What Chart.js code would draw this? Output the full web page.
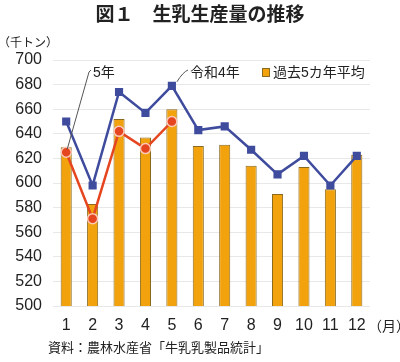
<!DOCTYPE html>
<html>
<head>
<meta charset="utf-8">
<script src="https://cdn.jsdelivr.net/npm/chart.js@4"></script>
<style>
  body { margin: 0; background: #fff; }
  #wrap { width: 400px; height: 362px; }
</style>
</head>
<body>
<div id="wrap"><canvas id="milkChart" width="400" height="362"></canvas></div>
<script>
const months = ["1", "2", "3", "4", "5", "6", "7", "8", "9", "10", "11", "12"];
const avg5yr = [629, 583, 652, 637, 660, 630, 631, 614, 591, 613, 595, 623];
const r4 = [650, 598, 674, 657, 679, 643, 646, 627, 607, 622, 598, 622];
const r5 = [625, 571, 642, 628, 650];
const yTicks = [500, 520, 540, 560, 580, 600, 620, 640, 660, 680, 700];

const FONT = "'Liberation Sans', 'Noto Sans CJK JP', sans-serif";
const JP = "'Noto Sans CJK JP', sans-serif";

const textPlugin = {
  id: "texts",
  afterDraw(chart) {
    const ctx = chart.ctx;
    const x = chart.scales.x;
    const y = chart.scales.y;
    ctx.save();
    ctx.fillStyle = "#222";
    ctx.textBaseline = "middle";

    // title
    ctx.font = "bold 19px " + JP;
    ctx.textAlign = "center";
    ctx.fillText("図１　生乳生産量の推移", 200, 14);

    ctx.textAlign = "left";
    ctx.font = "12px " + JP;
    ctx.fillText("（千トン）", -2, 42);
    ctx.font = "14px " + JP;
    ctx.fillText("（月）", 368, 326);
    ctx.font = "13px " + JP;
    ctx.fillText("資料：農林水産省「牛乳乳製品統計」", 48, 347);

    // series labels with leader lines
    ctx.font = "14px " + FONT;
    ctx.fillText("5年", 93, 73);
    ctx.fillText("令和4年", 190, 73);

    ctx.strokeStyle = "#555";
    ctx.lineWidth = 1;
    ctx.beginPath();
    ctx.moveTo(91, 70);
    ctx.lineTo(89, 72);
    ctx.lineTo(x.getPixelForValue(0) + 1, y.getPixelForValue(r5[0]) - 3);
    ctx.stroke();

    ctx.beginPath();
    ctx.moveTo(188, 70);
    ctx.quadraticCurveTo(183, 72, x.getPixelForValue(4) + 5, y.getPixelForValue(r4[4]) - 4);
    ctx.stroke();

    // legend for the bars
    ctx.fillStyle = "#f2a20c";
    ctx.strokeStyle = "#8a6a1e";
    ctx.fillRect(262, 68, 7, 8);
    ctx.strokeRect(262.5, 68.5, 7, 8);
    ctx.fillStyle = "#222";
    ctx.fillText("過去5カ年平均", 273, 73);
    ctx.restore();
  }
};

const ctx = document.getElementById("milkChart").getContext("2d");
new Chart(ctx, {
  data: {
    labels: months,
    datasets: [
      {
        type: "line",
        label: "5年",
        data: r5,
        borderColor: "#e5451f",
        borderWidth: 2.5,
        pointBackgroundColor: "#e5451f",
        pointBorderColor: "#fbc9b8",
        pointBorderWidth: 1.5,
        pointRadius: 5,
        tension: 0,
        order: 1
      },
      {
        type: "line",
        label: "令和4年",
        data: r4,
        borderColor: "#3f4c9e",
        borderWidth: 2.5,
        pointStyle: "rect",
        pointBackgroundColor: "#3f4c9e",
        pointBorderColor: "#3f4c9e",
        pointRadius: 4,
        tension: 0,
        order: 2
      },
      {
        type: "bar",
        label: "過去5カ年平均",
        data: avg5yr,
        backgroundColor: "#f2a20c",
        borderColor: "#8a6a1e",
        borderWidth: 1,
        barPercentage: 0.42,
        categoryPercentage: 1,
        order: 3
      }
    ]
  },
  options: {
    responsive: false,
    animation: false,
    layout: { padding: { top: 60, right: 30, left: 0, bottom: 0 } },
    plugins: {
      legend: { display: false },
      tooltip: { enabled: false }
    },
    scales: {
      x: {
        grid: { display: false, drawTicks: false },
        border: { display: false },
        ticks: { color: "#222", font: { family: FONT, size: 16 }, padding: 10, maxRotation: 0 },
        afterFit: (s) => { s.height = 56; }
      },
      y: {
        min: 500,
        max: 700,
        afterBuildTicks: (s) => { s.ticks = yTicks.map((v) => ({ value: v })); },
        grid: { color: "#e8e8e8", drawTicks: false },
        border: { display: false },
        ticks: { color: "#222", font: { family: FONT, size: 16 }, padding: 11 },
        afterFit: (s) => { s.width = 53; }
      }
    }
  },
  plugins: [textPlugin]
});
</script>
</body>
</html>
